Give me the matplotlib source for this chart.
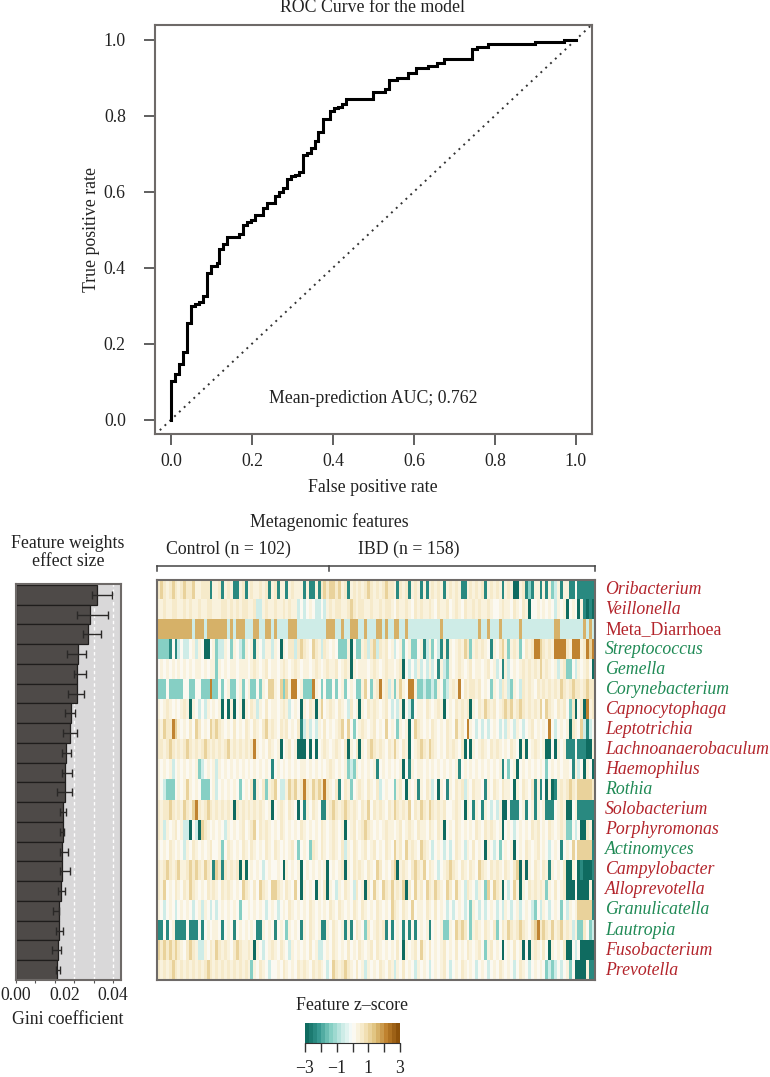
import numpy as np
from matplotlib import pyplot as plt
from matplotlib.colors import LinearSegmentedColormap
from matplotlib.transforms import blended_transform_factory

plt.rcParams['font.family'] = ['Liberation Serif', 'DejaVu Serif']

W, H = 770.0, 1077.0

# ROC steps, (fpr, tpr)
fpr = [0.0, 0.0, 0.009, 0.019, 0.029, 0.039, 0.049, 0.058, 0.068, 0.078, 0.088, 0.098, 0.112, 0.118, 0.128,
       0.137, 0.167, 0.177, 0.187, 0.197, 0.207, 0.227, 0.237, 0.256, 0.266, 0.276, 0.286, 0.296, 0.305, 0.315,
       0.325, 0.335, 0.345, 0.355, 0.364, 0.374, 0.392, 0.402, 0.412, 0.422, 0.432, 0.499, 0.528, 0.538, 0.557,
       0.586, 0.606, 0.635, 0.656, 0.675, 0.744, 0.755, 0.784, 0.900, 0.970]
tpr = [0.0, 0.102, 0.120, 0.145, 0.177, 0.254, 0.298, 0.304, 0.310, 0.324, 0.385, 0.405, 0.411, 0.448, 0.463,
       0.481, 0.488, 0.512, 0.521, 0.525, 0.538, 0.556, 0.570, 0.589, 0.600, 0.609, 0.632, 0.641, 0.645, 0.653,
       0.697, 0.703, 0.714, 0.734, 0.756, 0.791, 0.812, 0.820, 0.824, 0.830, 0.843, 0.862, 0.869, 0.893, 0.898,
       0.913, 0.925, 0.931, 0.938, 0.950, 0.975, 0.982, 0.989, 0.995, 1.0]
fpr_end = 1.0

# Gini bars, top to bottom
gini = [.0333, .0305, .0295, .0255, .0252, .0251, .0225, .0221, .0207, .0201,
        .0201, .0195, .0195, .0190, .0189, .0186, .0177, .0175, .0174, .0170]
gini_low = [.0311, .0249, .0277, .0208, .0240, .0214, .0203, .0193, .0190, .0189,
            .0170, .0182, .0179, .0179, .0182, .0171, .0152, .0163, .0147, .0163]
gini_high = [.0393, .0378, .0349, .0290, .0286, .0281, .0241, .0249, .0227, .0232,
             .0230, .0205, .0196, .0212, .0222, .0201, .0177, .0193, .0184, .0179]

features = ['Oribacterium', 'Veillonella', 'Meta_Diarrhoea', 'Streptococcus', 'Gemella', 'Corynebacterium',
            'Capnocytophaga', 'Leptotrichia', 'Lachnoanaerobaculum', 'Haemophilus', 'Rothia', 'Solobacterium',
            'Porphyromonas', 'Actinomyces', 'Campylobacter', 'Alloprevotella', 'Granulicatella', 'Lautropia',
            'Fusobacterium', 'Prevotella']
green_features = ['Streptococcus', 'Gemella', 'Corynebacterium', 'Rothia', 'Actinomyces', 'Granulicatella',
                  'Lautropia']

n_control = 102
n_ibd = 158

# heatmap rows read by eye, one letter per stripe
z_levels = {'A': -3.0, 'B': -2.3, 'C': -1.5, 'D': -0.7, '.': 0.0, 'e': 0.25, 'f': 0.5, 'g': 1.0, 'm': 1.55, 'h': 2.1}
heat_rows = [
    'fgfefgfefg ffgeefffBe efBefeBBef Befeefef Be fBeeBefeee BeBBeBfgfg gfgefBefef efgfefefgf feBfefBefe '
    'BeBefefeBe fefeBBefef efBefefeBe feAAefBCBe eBeBeCDeBe eBB.BBBBBB',
    'eefeeffeef efeefeeffe eeffefefef feefDDefee feefefeeD. D.e.DD.Def effeefgfef feefeefeff e.feefe.fe '
    'feefe.feef .efe.feefe feefe..efe e.fe.feA.. e.e.e.De.e A.e.AeBABA',
    'mmmmmmmmmm mmDmmmDmmm mmmmDmDmmm DDDmmDDmmD mDDDDmmmDD DDDDDDDDmm mDDmDDmmmD DmDDDmmDmD DmmDDmDDDD '
    'DDDDDDDmDD DDDDDDDDDD mDDmDDDmDD DDDDmDDDDD DDDDDDmmDD DDDDDDmDmD',
    'CCCCB.BD.D D.eDe.AA.e CDDe.Ce.DC e.eBe.DeeD e.Ae.ffDfg fe.gfeDfe. e.CCCeA.CC efDfgDfef. eD.eC.eCC. '
    'eBDeC.DBeB e.efegfCef efe.Be.fge CefeC.fefh hgfefehhhh fehhhefhgh',
    '.e.e.e.e.e .e.ee.e.ee Ce.e.ee.ee e.efe.ef.e e.efe.efe. ee.efe.efe ef.efeAe.e ee.efe.efe e.efA.D.De '
    'D.DeD.BeDC e.efe.ef.e e.ef.eD.Be D.e.efefef egefe.eDef CC.De.ef.A',
    'CCC.CCCCC. .CC..CCChC C.C.eCC.eC .eCC.Ce.gg e.gCgehh.e CCChe.C.CC .C.eC.e.CC eg.CefhefD eCege.hheC '
    'CDCCDCe.CD efeh.feffe f.e.Ce.Dfe DCe.Dfefe. fefefefegf efgffefgff',
    'e.efe.e.ef eAe.D.De.e .eA.AeA.eA e.feDe.f.e e.efeD.e.A e.feAeg.ef e.fe.Df.eA e.fefe.ef. D.DeA.DB.e '
    'e.fe.efeA. e.fefefAe. fegfef.efg fgefgfefef eg.gfe.fef .CfA.fAhef',
    'fegffhge.e .f.gf.e.gf gfe.e.f.e. fe.fe.fgef e.fef.e.fB DeD.De.f.e .efg.g.C.e fe.ef.e.g. e.Ce.eA.gf '
    'e.e.fe.e.f e.gef.he.D .D.D.e.D.D e.De.D.ef. e.e.h.D.e. eAfe.gDBD.',
    'ffefgfefef gfefefgfef efefgefefe fefhe.e.fe .eA.ef.eAA A.A.A.efe. efe.fAe.fA e.fgfefe.f ege.feA.ef '
    'gfegfe.e.f efe.fA.Ae. efe.fefe.e .fe.AeA.ef e.eAA.Ae.e BBB.BBBAAe',
    'e.e.eD.e.e .e.eCD.e.e De.e.e.e.e .e.e.e.e.B .e.e.e.e.e e.e.e.e.ef e.e.eCDCe. e.e.eB.e.e .e.eA.Be.e '
    'e.e.e.e.e. e.eB.e.e.e .e.e.e.eB. C.eA.e.e.e .e.C.e.e.e e.BeD.Ae.A',
    'e.DCCC.e.e ge.e.CCC.e D.e.e.e.C. e.fBe.fCef g.DDegfgef hfegfgfhfe .fB.feC.ef e.fe.fD.e. .Cef.Ae.eB '
    'e.feD.Ae.B e.fefDe.fe e.Be.fe.fe e.Ae.fe.fB eB.AeABefe fgfegggggf',
    'feffgfefeg feghfefgfe fefefeAfef efefefe.eA .efe.fe.A. Be.fe.BBef gfefgfefe. feg.fefe.f egfefeg.fe '
    'gfegfefef. .efe.Ae.Be .Be.D.DeAA .BBB.eB.eB e.eBBB.efe AA.eBBBBBB',
    'feDe.ef.eD DA.DAgfe.e .e.De.e.ef .efg.fefe. e.fe.e.e.f e.e.e.fe.e fe.eA.ef.e fgfe.e.efe e.ef.efe.f '
    'ee.fe.feA. e.fe.e.e.f e.fefe.eA. e.D.e.e.fe f.e.fe.efe CC.D.AAfeA',
    'e.e.fe.e.D e.fe.e.ef. .eC.fe.e.f e.fe.e.fe. fe.e.ef.C. e.Cfe.fe.e fe.fDe.fe. ef.ef.e.fe .gef.gefe. '
    'gfe.D.e.D. D.fe.De.f. e.Ae.D.C.e .eA.e.fe.e f.e.D.e.B. e.g.gggggB',
    'fefgfefgee fgfgfegfeB gfBfefefAe A.e.e.D.e. .e.Ae.e.eA .e.e.e.eA. e.efAe.fef e.fe.gf.e. fgAefe.fgf '
    'eg.fe.D.ef gfe.fe.fe. gfe.fefe.f e.fgAeAe.f e.feBe.e.f AAe.ABAAAB',
    'feg.e.fe.f egfe.e.fef e.fefe.e.g fe.f.gfe.g gfe.fe.g.A e.e.Ae.fAe .De.fe.Df. eAf.ge.gfe gefegAf.ge '
    'f.gfegfe.g f.ge.Dfe.D e.Cg.gfeA. D.geAe.fef efeCe.f.ef AAA.AAAAeA',
    'e.D.e.D.e. e.D.eDe.D. D.e.e.e.C. .e.e.e.D.e .D.e.fe.e. e.fe.e.e.f e.fe.e.fe. fe.e.fe.e. gfe.fe.g.e '
    'e.fe.f.e.D .D.e.D.Ce. D.D.e.D.De .D.eD.e.DC .De.D.e.C. De.egggggB',
    'BB.B.eBBBB .BBB.B.e.e e.B.e.B.e. e.e.BBe.e. B.e.Ce.e.B e.fe.eBBe. fe.eBeB.fe .Cf.efefB. B.e.B.B.B. '
    'e.eB.e.eCC e.gfgf.Cef e.fe.fC.fe gfefgfe.fg hfgfegefge feDeCCf.CD',
    'gfgfgfgfe. fgfeDDe.fe gfefe.fgfe efeAe.D.ef e.fe.De.e. e.f.eDD.e. fe.e.f.e.f e.ef.fe.e. e.f.Ae.ef. '
    'ge.f.e.ef. e.f.e.fe.e f.Cef.e.A. e.f.eA.Aef e.f.Ae.e.f AA.D.AAAAA',
    'fefefgfefe fefefefgfe fefefefefe feCe.fe.D. .e.fe.e.fe fe.fefe.D. gfefgfe.f. eDe.e.fe.f eDe.f.e.De '
    '.e.D.e.ef. D.e.fe.e.D .e.D.e.fe. e.D.fe.D.e .e.CDCD.D. eC.AAAAeBB',
]

z_ticks = [-3, -2, -1, 0, 1, 2, 3]
z_labels = {-3: '\u22123', -1: '\u22121', 1: '1', 3: '3'}
key_colors = ['#0f6b60', '#35978f', '#80cdc1', '#c7eae5', '#fdfdfb', '#f6e8c3', '#dfc27d', '#bf812d', '#8c510a']

frame_col = '#6e6a68'
txt_col = '#222222'
red = '#b3242b'
green = '#1f8a55'
fs = 12.8
cmap = LinearSegmentedColormap.from_list('key', key_colors, N=24)


def px_axes(fig, left, top, right, bottom):
    return fig.add_axes([left / W, 1 - bottom / H, (right - left) / W, (bottom - top) / H])


def px_text(fig, x, y, s, **kw):
    kw.setdefault('ha', 'center')
    kw.setdefault('va', 'center')
    kw.setdefault('fontsize', fs)
    kw.setdefault('color', txt_col)
    fig.text(x / W, 1 - y / H, s, **kw)


def style_frame(ax, color=frame_col, lw=1.5):
    for s in ax.spines.values():
        s.set_color(color)
        s.set_linewidth(lw)


fig = plt.figure(figsize=(W / 100, H / 100), dpi=100)

# ROC panel
ax = px_axes(fig, 155, 24.5, 592, 434)
ax.plot([-0.04, 1.04], [-0.04, 1.04], color='#333333', lw=1.4, ls=(0, (1, 2.4)))
ax.step(fpr + [fpr_end], tpr + [tpr[-1]], where='post', color='black', lw=2.2, solid_joinstyle='miter')
ax.set_xlim(-0.04, 1.04)
ax.set_ylim(-0.038, 1.04)
ax.set_xticks(np.arange(0, 1.01, 0.2))
ax.set_yticks(np.arange(0, 1.01, 0.2))
ax.set_xticklabels(['%.1f' % v for v in np.arange(0, 1.01, 0.2)])
ax.set_yticklabels(['%.1f' % v for v in np.arange(0, 1.01, 0.2)])
ax.tick_params(length=8, width=1.2, color='#444444', labelsize=fs, labelcolor=txt_col)
ax.tick_params(axis='x', pad=6)
ax.tick_params(axis='y', pad=13)
style_frame(ax)
ax.text(0.5, 0.055, 'Mean-prediction AUC; 0.762', ha='center', va='center', fontsize=fs, color=txt_col)
px_text(fig, 373, 8, 'ROC Curve for the model')
px_text(fig, 373, 487, 'False positive rate')
px_text(fig, 92, 229, 'True positive rate', rotation=90)

# Gini bars
ax = px_axes(fig, 16, 584, 121, 980)
ypos = np.arange(len(gini))
ax.set_facecolor('#d9d8d9')
for v in [0.024, 0.032, 0.04]:
    ax.axvline(v, color='white', lw=1, ls=(0, (2.5, 2)), zorder=1)
ax.barh(ypos, gini, height=1.0, color='#4e4a48', edgecolor='#1f1d1c', linewidth=0.9, zorder=2)
ax.hlines(ypos, gini_low, gini_high, color='#2a2827', lw=1, zorder=3)
ax.vlines(gini_low, ypos - 0.2, ypos + 0.2, color='#2a2827', lw=1, zorder=3)
ax.vlines(gini_high, ypos - 0.2, ypos + 0.2, color='#2a2827', lw=1, zorder=3)
ax.set_xlim(0, 0.0432)
ax.set_ylim(len(gini) - 0.5, -0.55)
ax.set_yticks([])
ax.set_xticks(np.arange(0, 0.041, 0.008))
ax.set_xticklabels([])
ax.tick_params(axis='x', length=2.5, width=0.8, color='#555555')
style_frame(ax)
for v, lab in zip([0.0, 0.02, 0.04], ['0.00', '0.02', '0.04']):
    px_text(fig, max(16 + v / 0.0432 * 105, 16), 995, lab)
px_text(fig, 68, 543, 'Feature weights')
px_text(fig, 68, 562, 'effect size')
px_text(fig, 68, 1020, 'Gini coefficient')

# Heatmap
ax = px_axes(fig, 157, 579.5, 595, 980)
heat = np.array([[z_levels[c] for c in row.replace(' ', '')] for row in heat_rows])
ax.imshow(heat, cmap=cmap, vmin=-3, vmax=3, aspect='auto', interpolation='nearest',
          extent=(0, n_control + n_ibd, len(features), 0))
ax.set_xticks([])
ax.set_yticks([])
style_frame(ax)
br = blended_transform_factory(ax.transData, ax.transAxes)
split = n_control
end = n_control + n_ibd
ax.plot([0, end], [1.0345, 1.0345], transform=br, clip_on=False, color='#444444', lw=1.1)
for xv in [0, split, end]:
    ax.plot([xv, xv], [1.0345, 1.021], transform=br, clip_on=False, color='#444444', lw=1.1)
for i, name in enumerate(features):
    y = 579.5 + (i + 0.5) * 20.03
    col = green if name in green_features else red
    style = 'normal' if name == 'Meta_Diarrhoea' else 'italic'
    px_text(fig, 605, y, name, ha='left', color=col, style=style)
px_text(fig, 329, 522, 'Metagenomic features')
px_text(fig, 228, 549, 'Control (n = %d)' % n_control)
px_text(fig, 409, 549, 'IBD (n = %d)' % n_ibd)

# Colour key
ax = px_axes(fig, 305, 1023, 400, 1043)
ax.imshow(np.linspace(-3, 3, 24)[None, :], cmap=cmap, vmin=-3, vmax=3, aspect='auto',
          extent=(-3, 3, 0, 1), interpolation='nearest')
ax.set_yticks([])
ax.set_xticks(z_ticks)
ax.set_xticklabels([z_labels.get(t, '') for t in z_ticks])
ax.tick_params(axis='x', length=6.5, width=1, color='#333333', labelsize=fs, labelcolor=txt_col, pad=6)
for s in ['top', 'left', 'right']:
    ax.spines[s].set_visible(False)
ax.spines['bottom'].set_color('#333333')
px_text(fig, 352, 1006, 'Feature z\u2013score')

fig.savefig('out.png', dpi=100)
